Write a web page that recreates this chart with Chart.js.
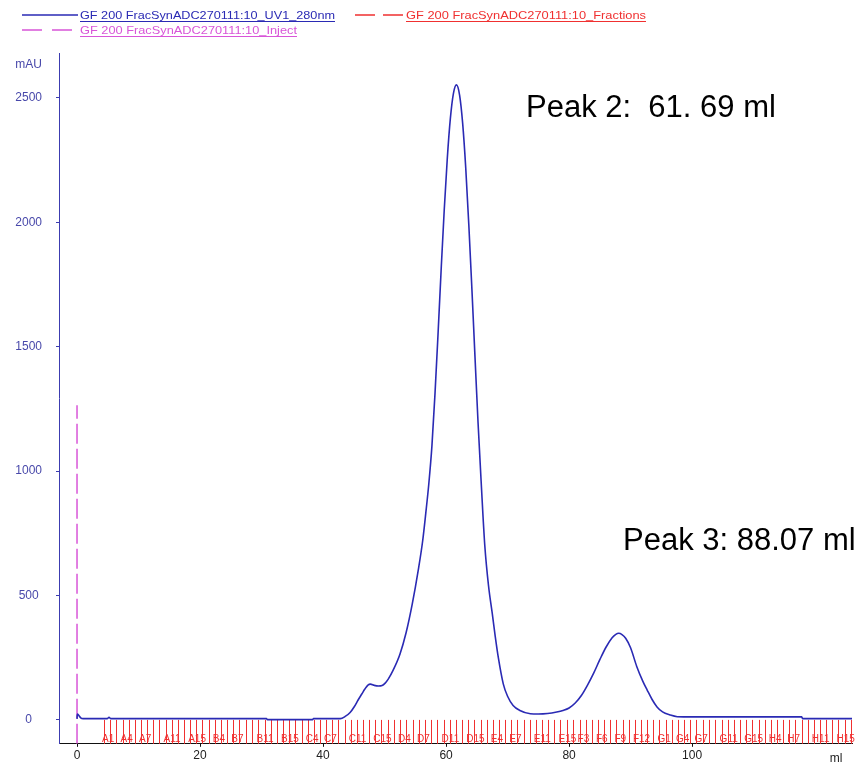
<!DOCTYPE html>
<html>
<head>
<meta charset="utf-8">
<title>GF 200 FracSynADC270111:10</title>
<script src="https://cdn.jsdelivr.net/npm/chart.js@4/dist/chart.umd.min.js"></script>
<style>
  html, body { margin: 0; padding: 0; background: #fff; }
  #wrap { width: 862px; height: 765px; }
</style>
</head>
<body>
<div id="wrap"><canvas id="chromatogram" width="862" height="765"></canvas></div>
<script>
// UV1_280nm trace: elution volume (ml) and absorbance (mAU)
const uvVolume = [
  0, 0.05, 0.3, 0.6, 1.0, 4.9, 5.2, 5.5, 30.8, 30.95, 38.3, 38.45,
  42.8, 43.6, 44.4, 45.1, 45.7, 46.3, 46.8, 47.3, 47.7, 48.3, 49.0, 49.6,
  50.1, 50.6, 51.4, 52.5, 53.5, 54.5, 55.5, 56.2, 56.7, 57.2, 57.7, 58.2,
  58.7, 59.2, 59.7, 60.2, 60.7, 61.2, 61.69, 62.2, 62.7, 63.2, 63.7, 64.2,
  64.7, 65.2, 65.7, 66.3, 66.9, 67.5, 68.0, 68.5, 69.3, 70.0, 70.9, 72.0,
  73.7, 75.0, 76.5, 78.0, 79.0, 80.0, 81.0, 82.0, 83.0, 84.0, 85.0, 86.0,
  87.0, 87.6, 88.07, 88.6, 89.2, 90.0, 91.0, 92.0, 92.7, 93.5, 94.3, 95.2,
  96.4, 97.6, 100.0, 117.8, 118.0, 126.0
];
const uvAbsorbance = [
  4, 24, 18, 8, 5, 5, 10, 5, 5, 1, 1, 5,
  5, 14, 30, 54, 80, 104, 124, 140, 144, 139, 136, 138,
  148, 164, 200, 264, 350, 465, 605, 720, 830, 950, 1100, 1310,
  1553, 1808, 2048, 2256, 2417, 2518, 2552, 2511, 2397, 2218, 1990, 1732,
  1461, 1195, 960, 700, 540, 430, 335, 250, 145, 95, 58, 38,
  25, 24, 26, 32, 38, 48, 68, 98, 140, 188, 242, 292,
  330, 344, 348, 343, 328, 290, 215, 155, 120, 82, 52, 32,
  20, 13, 12, 12, 5, 5
];

// inject mark
const injectVolume = 0;
const injectTop = 1264;

// fraction boundaries (ml): A1..H15, then end of collection
const fractionBounds = [
  4.4, 5.4, 6.4, 7.4, 8.4, 9.4, 10.4, 11.4, 12.4, 13.4, 14.4, 15.4, 16.4, 17.4, 18.4,
  19.4, 20.4, 21.4, 22.4, 23.4, 24.4, 25.4, 26.4, 27.4, 28.4, 29.5, 30.5, 31.5, 32.5, 33.5,
  34.5, 35.5, 36.5, 37.5, 38.5, 39.5, 40.5, 41.5, 42.5, 43.5, 44.5, 45.5, 46.5, 47.5, 48.5,
  49.5, 50.5, 51.5, 52.5, 53.5, 54.6, 55.6, 56.6, 57.6, 58.6, 59.6, 60.6, 61.6, 62.6, 63.6,
  64.6, 65.6, 66.6, 67.6, 68.6, 69.6, 70.6, 71.6, 72.6, 73.6, 74.6, 75.6, 76.6, 77.6, 78.6,
  79.7, 80.7, 81.7, 82.7, 83.7, 84.7, 85.7, 86.7, 87.7, 88.7, 89.7, 90.7, 91.7, 92.7, 93.7,
  94.7, 95.7, 96.7, 97.7, 98.7, 99.7, 100.7, 101.7, 102.7, 103.7, 104.8, 105.8, 106.8, 107.8, 108.8,
  109.8, 110.8, 111.8, 112.8, 113.8, 114.8, 115.8, 116.8, 117.8, 118.8, 119.8, 120.8, 121.8, 122.8, 123.8,
  124.8, 125.9
];
const fractionRows = ["A", "B", "C", "D", "E", "F", "G", "H"];
const fractionLabels = [
  "A1", "A4", "A7", "A11", "A15", "B4", "B7", "B11", "B15", "C4", "C7", "C11", "C15",
  "D4", "D7", "D11", "D15", "E4", "E7", "E11", "E15", "F3", "F6", "F9", "F12",
  "G1", "G4", "G7", "G11", "G15", "H4", "H7", "H11", "H15"
];

// axes
const xTickValues = [0, 20, 40, 60, 80, 100];
const yTickValues = [0, 500, 1000, 1500, 2000, 2500];
const xMin = -2.93, xMax = 126.0;
const yMin = -96, yMax = 2680;

// curve names and peak notes
const curveNames = [
  "GF 200 FracSynADC270111:10_UV1_280nm",
  "GF 200 FracSynADC270111:10_Fractions",
  "GF 200 FracSynADC270111:10_Inject"
];
const peakNotes = ["Peak 2:  61. 69 ml", "Peak 3: 88.07 ml"];

const FONT = "'Liberation Sans', Arial, sans-serif";
const uvColor = "#2a2ab4";
const fracColor = "#f03030";
const injectColor = "#d855d8";
const axisBlue = "#3c3cb0";

// legend entry: line sample + stretched, underlined name
function drawLegendItem(ctx, x0, x1, y, color, dash, text, tx, tw) {
  ctx.save();
  ctx.strokeStyle = color;
  ctx.lineWidth = 1.5;
  ctx.setLineDash(dash);
  ctx.beginPath();
  ctx.moveTo(x0, y - 4);
  ctx.lineTo(x1, y - 4);
  ctx.stroke();
  ctx.setLineDash([]);
  ctx.font = "11px " + FONT;
  ctx.fillStyle = color;
  ctx.textBaseline = "alphabetic";
  const w = ctx.measureText(text).width;
  ctx.translate(tx, y);
  ctx.scale(tw / w, 1);
  ctx.fillText(text, 0, 0);
  ctx.restore();
  ctx.save();
  ctx.strokeStyle = color;
  ctx.lineWidth = 1;
  ctx.beginPath();
  ctx.moveTo(tx, y + 2.5);
  ctx.lineTo(tx + tw, y + 2.5);
  ctx.stroke();
  ctx.restore();
}

const extras = {
  id: "extras",
  beforeDatasetsDraw(chart) {
    const { ctx, scales: { x, y } } = chart;
    const top = y.getPixelForValue(0);
    const bottom = y.getPixelForValue(yMin);

    // fraction marks
    ctx.save();
    ctx.strokeStyle = fracColor;
    ctx.lineWidth = 1;
    ctx.beginPath();
    fractionBounds.forEach(v => {
      const px = Math.round(x.getPixelForValue(v)) + 0.5;
      ctx.moveTo(px, top);
      ctx.lineTo(px, bottom);
    });
    ctx.stroke();

    ctx.fillStyle = fracColor;
    ctx.font = "10px " + FONT;
    ctx.textAlign = "left";
    ctx.textBaseline = "alphabetic";
    fractionLabels.forEach(name => {
      const idx = fractionRows.indexOf(name[0]) * 15 + parseInt(name.slice(1), 10) - 1;
      const px = x.getPixelForValue(fractionBounds[idx]);
      ctx.fillText(name, px - 2, bottom - 2);
    });
    ctx.restore();
  },
  afterDraw(chart) {
    const { ctx } = chart;
    ctx.save();
    // units
    ctx.font = "12px " + FONT;
    ctx.textAlign = "center";
    ctx.textBaseline = "middle";
    ctx.fillStyle = "#4848aa";
    ctx.fillText("mAU", 28.5, 65);
    ctx.fillStyle = "#222";
    ctx.fillText("ml", 836, 759);

    // peak notes
    ctx.font = "31px " + FONT;
    ctx.textAlign = "left";
    ctx.textBaseline = "alphabetic";
    ctx.fillStyle = "#000";
    ctx.fillText(peakNotes[0], 526, 117);
    ctx.fillText(peakNotes[1], 623, 550);
    ctx.restore();

    // curve legend
    drawLegendItem(ctx, 22, 78, 19, uvColor, [], curveNames[0], 80, 255);
    drawLegendItem(ctx, 355, 404, 19, fracColor, [20, 8], curveNames[1], 406, 240);
    drawLegendItem(ctx, 22, 75, 34, injectColor, [20, 10], curveNames[2], 80, 217);
  }
};

const ctx = document.getElementById("chromatogram").getContext("2d");

new Chart(ctx, {
  type: "line",
  data: {
    datasets: [
      {
        label: curveNames[0],
        data: uvVolume.map((v, i) => ({ x: v, y: uvAbsorbance[i] })),
        borderColor: uvColor,
        borderWidth: 1.6,
        pointRadius: 0,
        cubicInterpolationMode: "monotone",
        fill: false
      },
      {
        label: curveNames[2],
        data: [{ x: injectVolume, y: yMin }, { x: injectVolume, y: injectTop }],
        borderColor: injectColor,
        borderWidth: 1.5,
        borderDash: [20, 5],
        pointRadius: 0,
        fill: false
      }
    ]
  },
  options: {
    responsive: false,
    animation: false,
    devicePixelRatio: 1,
    layout: { padding: { top: 53, right: 10, left: 0, bottom: 0 } },
    plugins: {
      legend: { display: false },
      tooltip: { enabled: false }
    },
    scales: {
      x: {
        type: "linear",
        min: xMin,
        max: xMax,
        afterBuildTicks: s => { s.ticks = xTickValues.map(v => ({ value: v })); },
        afterFit: s => { s.height = 18; },
        border: { color: "#111", width: 1 },
        grid: { drawOnChartArea: false, tickLength: 3, color: "#111" },
        ticks: {
          color: "#222",
          font: { family: FONT, size: 12 },
          padding: 2,
          maxRotation: 0,
          autoSkip: false,
          callback: v => String(v)
        }
      },
      y: {
        type: "linear",
        min: yMin,
        max: yMax,
        afterBuildTicks: s => { s.ticks = yTickValues.map(v => ({ value: v })); },
        afterFit: s => { s.width = 59; },
        border: { color: axisBlue, width: 1 },
        grid: { drawOnChartArea: false, tickLength: 3, color: axisBlue },
        ticks: {
          color: "#4848aa",
          font: { family: FONT, size: 12 },
          crossAlign: "center",
          padding: 14,
          callback: v => String(v)
        }
      }
    }
  },
  plugins: [extras]
});
</script>
</body>
</html>
